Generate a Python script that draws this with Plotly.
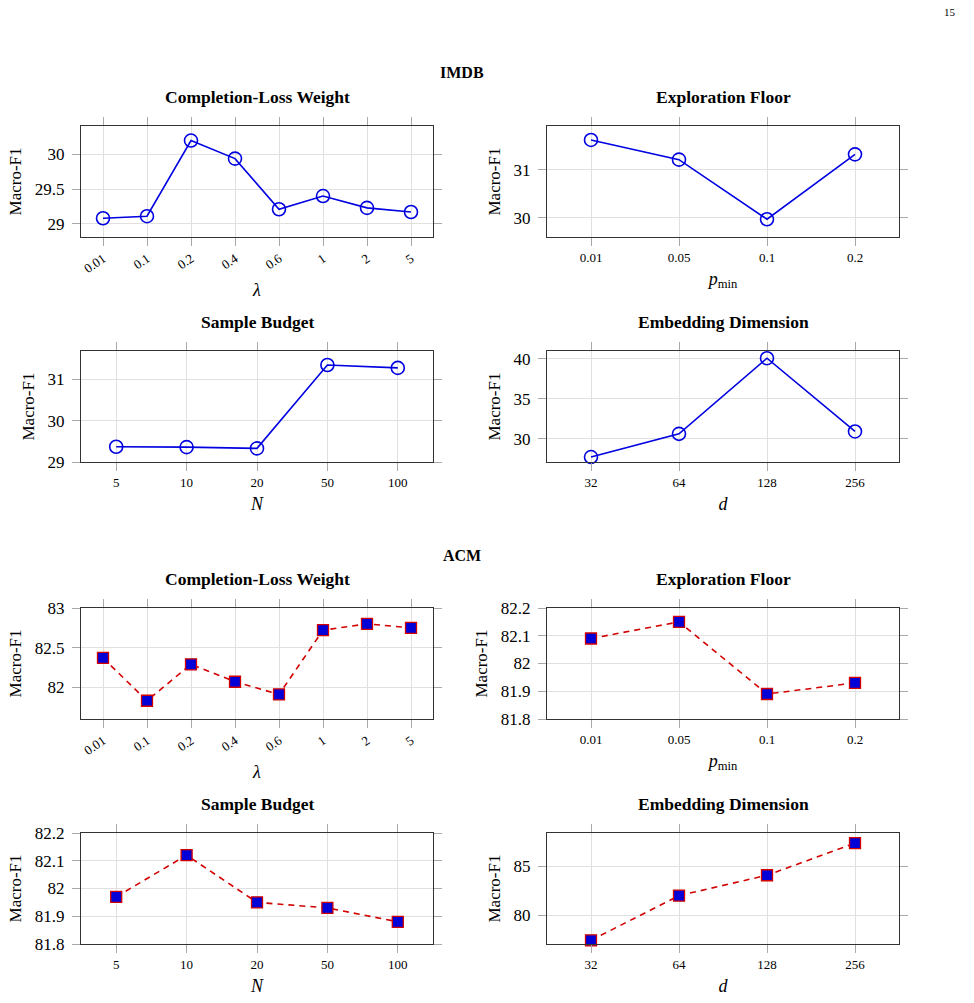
import plotly.graph_objects as go

# ---------------- data ----------------
lam_labels = ["0.01", "0.1", "0.2", "0.4", "0.6", "1", "2", "5"]
pmin_labels = ["0.01", "0.05", "0.1", "0.2"]
n_labels = ["5", "10", "20", "50", "100"]
d_labels = ["32", "64", "128", "256"]

imdb_lam = [29.08, 29.11, 30.20, 29.94, 29.21, 29.40, 29.23, 29.17]
imdb_pmin = [31.62, 31.21, 29.97, 31.32]
imdb_n = [29.37, 29.36, 29.33, 31.35, 31.28]
imdb_d = [27.7, 30.6, 40.05, 30.9]

acm_lam = [82.37, 81.83, 82.29, 82.07, 81.91, 82.72, 82.80, 82.75]
acm_pmin = [82.09, 82.15, 81.89, 81.93]
acm_n = [81.97, 82.12, 81.95, 81.93, 81.88]
acm_d = [77.4, 82.0, 84.1, 87.4]

imdb_lam_ticks = [29, 29.5, 30]
imdb_pmin_ticks = [30, 31]
imdb_n_ticks = [29, 30, 31]
imdb_d_ticks = [30, 35, 40]
acm_lam_ticks = [82, 82.5, 83]
acm_pmin_ticks = [81.8, 81.9, 82, 82.1, 82.2]
acm_n_ticks = [81.8, 81.9, 82, 82.1, 82.2]
acm_d_ticks = [80, 85]

panel_titles = ["Completion-Loss Weight", "Exploration Floor", "Sample Budget", "Embedding Dimension"]
group_titles = ["IMDB", "ACM"]
x_titles = ["<i>λ</i>", "<i>p</i><sub>min</sub>", "<i>N</i>", "<i>d</i>"]

# ---------------- layout geometry (pixels) ----------------
W, H = 974, 1003
FONT = "Liberation Serif"
BLUE = "rgb(0,0,225)"
RED = "rgb(210,0,0)"

cols = [(81, 433), (547, 899)]
rows = [(126, 237), (351, 462), (608, 719), (833, 944)]


def py(v):
    """page pixel (from top) -> paper fraction"""
    return 1 - v / H


panels = [
    # (xlabels, yvals, yticks, yrange, style, row, col, title_idx, tickangle)
    (lam_labels, imdb_lam, imdb_lam_ticks, [28.81, 30.41], "imdb", 0, 0, 0, -35),
    (pmin_labels, imdb_pmin, imdb_pmin_ticks, [29.60, 31.91], "imdb", 0, 1, 1, 0),
    (n_labels, imdb_n, imdb_n_ticks, [29.0, 31.69], "imdb", 1, 0, 2, 0),
    (d_labels, imdb_d, imdb_d_ticks, [27.08, 40.95], "imdb", 1, 1, 3, 0),
    (lam_labels, acm_lam, acm_lam_ticks, [81.60, 83.0], "acm", 2, 0, 0, -35),
    (pmin_labels, acm_pmin, acm_pmin_ticks, [81.8, 82.2], "acm", 2, 1, 1, 0),
    (n_labels, acm_n, acm_n_ticks, [81.8, 82.2], "acm", 3, 0, 2, 0),
    (d_labels, acm_d, acm_d_ticks, [77.02, 88.45], "acm", 3, 1, 3, 0),
]

fig = go.Figure()
layout = dict(
    width=W, height=H,
    margin=dict(l=0, r=0, t=0, b=0, pad=0, autoexpand=False),
    paper_bgcolor="white", plot_bgcolor="white",
    showlegend=False,
    font=dict(family=FONT, color="black"),
)
annotations = []


def fmt(v):
    return "%g" % v


for i, (xl, yv, yt, yr, style, r, c, ti, ang) in enumerate(panels):
    k = i + 1
    xa = "x" if k == 1 else "x%d" % k
    ya = "y" if k == 1 else "y%d" % k
    if style == "imdb":
        tr = go.Scatter(
            x=xl, y=yv, mode="lines+markers", xaxis=xa, yaxis=ya,
            line=dict(color=BLUE, width=1.6),
            marker=dict(symbol="circle-open", size=13, color=BLUE, line=dict(width=1.6, color=BLUE)),
            cliponaxis=False,
        )
    else:
        tr = go.Scatter(
            x=xl, y=yv, mode="lines+markers", xaxis=xa, yaxis=ya,
            line=dict(color=RED, width=1.6, dash="6px,5px"),
            marker=dict(symbol="square", size=11, color="rgb(0,0,215)", line=dict(width=1.3, color=RED)),
            cliponaxis=False,
        )
    fig.add_trace(tr)
    x0, x1 = cols[c]
    y0, y1 = rows[r]
    common = dict(
        showline=True, linecolor="#333333", linewidth=1, mirror="allticks",
        ticks="outside", ticklen=8, tickcolor="#aaaaaa", tickwidth=1,
        showgrid=True, gridcolor="#e0e0e0", gridwidth=1, zeroline=False,
        automargin=False,
    )
    layout["xaxis" if k == 1 else "xaxis%d" % k] = dict(
        common, domain=[x0 / W, x1 / W], anchor=ya, type="category",
        range=[-0.5, len(xl) - 0.5], tickangle=ang,
        tickfont=dict(size=13, family=FONT, color="black"),
        title=dict(text=x_titles[ti], font=dict(size=18, family=FONT, color="black"), standoff=8),
    )
    layout["yaxis" if k == 1 else "yaxis%d" % k] = dict(
        common, domain=[py(y1), py(y0)], anchor=xa,
        range=yr, tickvals=yt, ticktext=[fmt(v) for v in yt],
        tickfont=dict(size=17, family=FONT, color="black"), ticklabelstandoff=4,
        title=dict(text="Macro-F1", font=dict(size=17, family=FONT, color="black"), standoff=8),
    )
    annotations.append(dict(
        text="<b>%s</b>" % panel_titles[ti], xref="paper", yref="paper",
        x=(x0 + x1) / 2 / W, y=py(y0 - 29), showarrow=False,
        font=dict(size=17.5, family=FONT, color="black"), xanchor="center", yanchor="middle",
    ))

annotations.append(dict(text="<b>%s</b>" % group_titles[0], xref="paper", yref="paper",
                        x=462 / W, y=py(72), showarrow=False,
                        font=dict(size=16, family=FONT, color="black"), xanchor="center", yanchor="middle"))
annotations.append(dict(text="<b>%s</b>" % group_titles[1], xref="paper", yref="paper",
                        x=462 / W, y=py(555), showarrow=False,
                        font=dict(size=16, family=FONT, color="black"), xanchor="center", yanchor="middle"))
annotations.append(dict(text="15", xref="paper", yref="paper",
                        x=958 / W, y=py(12), showarrow=False,
                        font=dict(size=11, family=FONT, color="black"), xanchor="right", yanchor="middle"))
layout["annotations"] = annotations
fig.update_layout(**layout)
fig.write_html("out.html")
